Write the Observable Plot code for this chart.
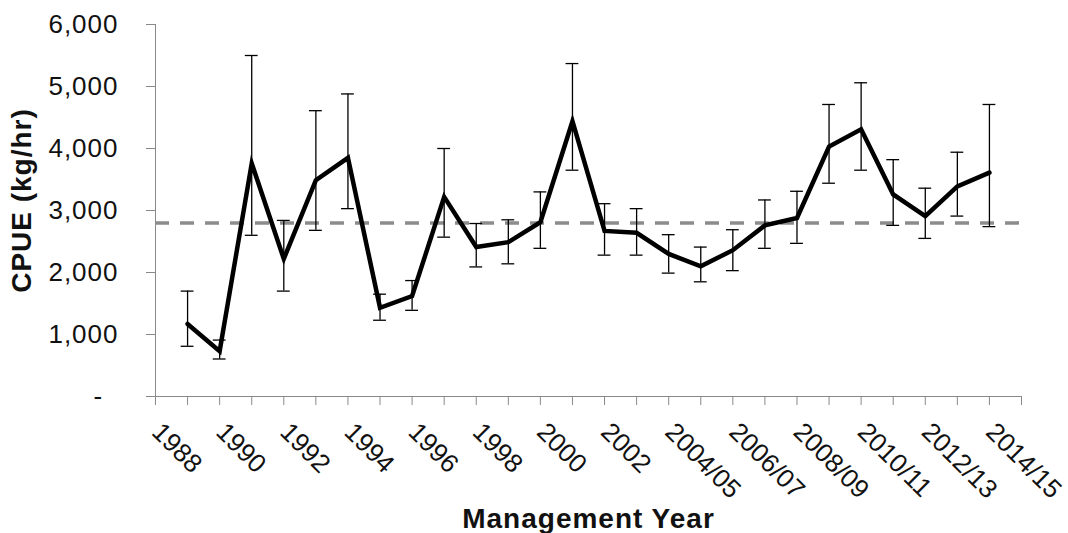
<!DOCTYPE html>
<html>
<head>
<meta charset="utf-8">
<script src="https://cdn.jsdelivr.net/npm/d3@7"></script>
<script src="https://cdn.jsdelivr.net/npm/@observablehq/plot@0.6"></script>
<style>
  body { margin: 0; background: #fff; }
  #chart svg { display: block; }
</style>
</head>
<body>
<div id="chart"></div>
<script>
// CPUE per management year (points sit on axis ticks 1..26)
const cpue  = [1170, 730, 3760, 2220, 3490, 3850, 1430, 1620, 3220, 2410, 2490, 2810, 4440,
               2670, 2640, 2300, 2100, 2360, 2760, 2880, 4030, 4310, 3260, 2910, 3390, 3610];
const upper = [1700, 910, 5500, 2840, 4610, 4880, 1650, 1870, 4000, 2790, 2850, 3300, 5370,
               3110, 3030, 2610, 2410, 2690, 3170, 3310, 4710, 5060, 3820, 3360, 3940, 4710];
const lower = [810, 605, 2600, 1700, 2680, 3030, 1230, 1390, 2570, 2090, 2140, 2390, 3650,
               2280, 2280, 1990, 1850, 2030, 2390, 2470, 3440, 3650, 2760, 2550, 2910, 2740];
const reference = 2800;

// labels on every other tick, starting at tick 0
const tickLabels = ["1988", "1990", "1992", "1994", "1996", "1998", "2000", "2002",
                    "2004/05", "2006/07", "2008/09", "2010/11", "2012/13", "2014/15"];
const yTicks = [0, 1000, 2000, 3000, 4000, 5000, 6000];

const data = cpue.map((v, i) => ({pos: i + 1, cpue: v, hi: upper[i], lo: lower[i]}));
const labelData = tickLabels.map((t, i) => ({pos: i * 2, label: t}));
const axisGray = "#898989";

let chart = Plot.plot({
  width: 1068,
  height: 533,
  marginLeft: 155,
  marginRight: 47,
  marginTop: 24,
  marginBottom: 137,
  style: {fontFamily: "'Liberation Sans', Arial, sans-serif", color: "#111", letterSpacing: "1px"},
  x: {domain: [0, 27], axis: null},
  y: {domain: [0, 6000], axis: null},
  marks: [
    // axes
    Plot.axisY({ticks: yTicks, tickSize: 9, tickPadding: 28, stroke: axisGray, fill: "#111", fontSize: 26,
      label: null, tickFormat: d => d === 0 ? "-\u2007" : d3.format(",")(d)}),
    Plot.axisX({ticks: d3.range(0, 28), tickSize: 9, stroke: axisGray, label: null, tickFormat: () => ""}),
    Plot.ruleX([0], {stroke: axisGray}),
    Plot.ruleY([0], {stroke: axisGray}),
    Plot.text(labelData, {x: "pos", text: "label", frameAnchor: "bottom", rotate: 45,
      textAnchor: "start", lineAnchor: "bottom", dx: -5, dy: 37, fontSize: 26, fill: "#111"}),
    // axis titles
    Plot.text(["CPUE (kg/hr)"], {frameAnchor: "left", textAnchor: "middle", rotate: -90, dx: -133, dy: -10,
      fontSize: 28, fontWeight: "bold", fill: "#111"}),
    Plot.text(["Management Year"], {frameAnchor: "bottom", lineAnchor: "bottom", dy: 131,
      fontSize: 28, fontWeight: "bold", fill: "#111"}),
    // long-term mean
    Plot.ruleY([reference], {stroke: "#8c8c8c", strokeWidth: 3.5, strokeDasharray: "14,11"}),
    // error bars
    Plot.ruleX(data, {x: "pos", y1: "lo", y2: "hi", stroke: "#000", strokeWidth: 1.3}),
    Plot.ruleY(data, {y: "hi", x1: d => d.pos - 0.2, x2: d => d.pos + 0.2, stroke: "#000", strokeWidth: 1.3}),
    Plot.ruleY(data, {y: "lo", x1: d => d.pos - 0.2, x2: d => d.pos + 0.2, stroke: "#000", strokeWidth: 1.3}),
    // series
    Plot.line(data, {x: "pos", y: "cpue", stroke: "#000", strokeWidth: 4.5, strokeLinejoin: "miter", strokeMiterlimit: 6})
  ]
});

// the rotated year labels are the first text mark: keep them tight so the last one fits
d3.select(chart).select('g[aria-label="text"]').style("letter-spacing", "0px");

d3.select('#chart').append(() => chart);
</script>
</body>
</html>
